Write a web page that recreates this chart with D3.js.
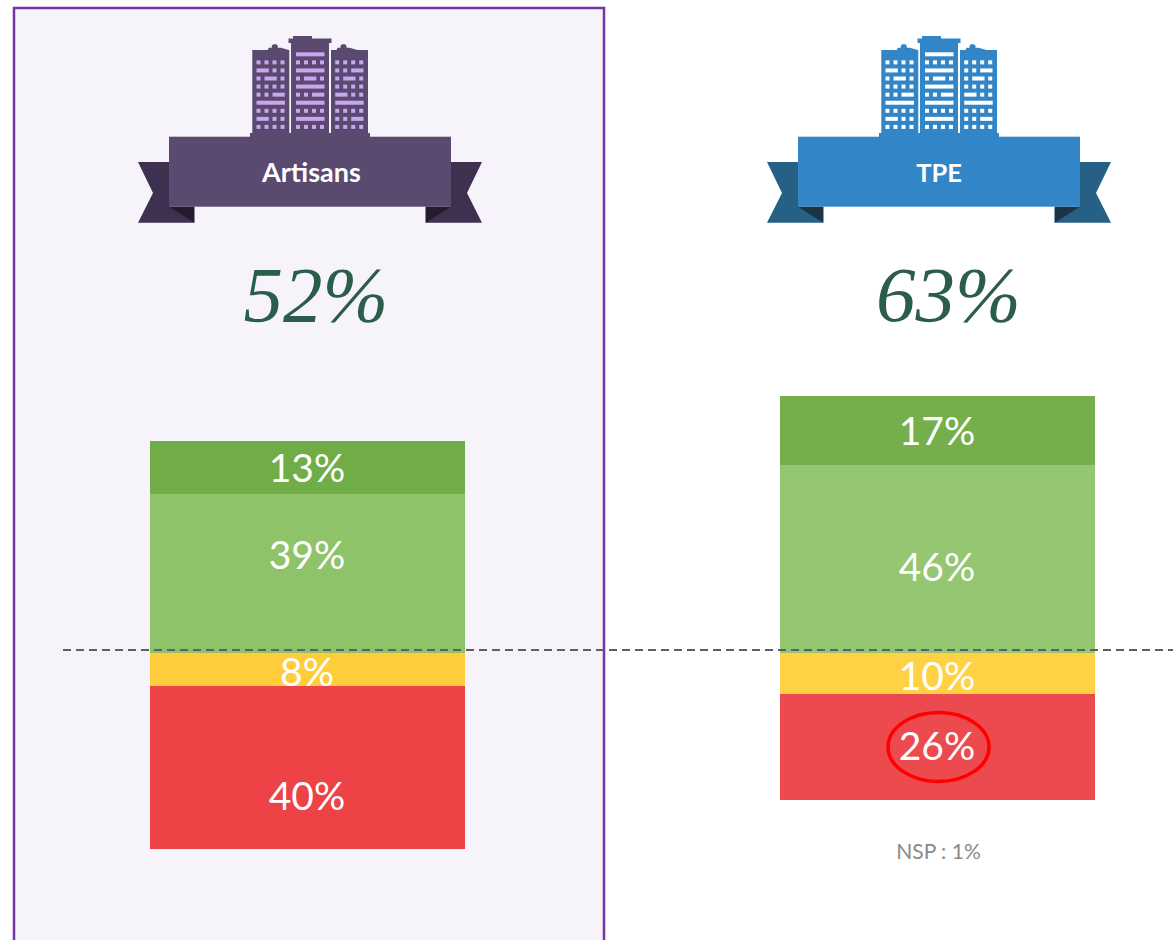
<!DOCTYPE html>
<html><head><meta charset="utf-8">
<script src="https://cdn.jsdelivr.net/npm/d3@7/dist/d3.min.js"></script>
<style>html,body{margin:0;padding:0;background:#fff;overflow:hidden}svg{display:block}</style>
</head><body><div id="c"></div>
<script>
// Data
const groups = ["Artisans", "TPE"];
const totals = ["52%", "63%"];
const segments = ["tresHaut", "haut", "bas", "tresBas"];
const artisansValues = [13, 39, 8, 40];
const tpeValues = [17, 46, 10, 26];
const signs = [1, 1, -1, -1];
const note = "NSP : 1%";

// Styles
const artisansColors = ["#70ad47", "#8fc36a", "#ffcd3c", "#ed4246"];
const tpeColors = ["#75af4c", "#95c671", "#ffd145", "#ec4a4f"];
const theme = {
  Artisans: {main:"#5b4a6f", tail:"#3e3150", fold:"#241b2e", win:"#c9a5f2", labelSize:27, labelX:311.5},
  TPE: {main:"#3285c6", tail:"#276085", fold:"#1b3445", win:"#ffffff", labelSize:25.5, labelX:310}
};
const labelNudge = [[1,-18,3,29],[1,8,3,0]];

const W = 1173, H = 940, baseY = 653;
const svg = d3.select("#c").append("svg").attr("width",W).attr("height",H);

svg.append("rect").attr("x",14).attr("y",8).attr("width",590).attr("height",H+20)
  .attr("fill","#f6f4fa").attr("stroke","#7535a8").attr("stroke-width",2.5);

const x = d3.scaleBand().domain(groups).range([150,1095]).paddingInner(0.5);
const y = d3.scaleLinear().domain([0,100]).range([baseY, baseY-408]);

const rows = groups.map((g,i)=>{
  const vals = i===0?artisansValues:tpeValues;
  const cols = i===0?artisansColors:tpeColors;
  let down=0;
  return segments.map((s,j)=>{
    let a,b;
    if(signs[j]>0){
      const above = d3.sum(vals.slice(j+1).filter((_,k)=>signs[j+1+k]>0));
      a = above; b = above+vals[j];
    } else {
      a = -down; b = -(down+vals[j]); down += vals[j];
    }
    return {g,s,v:vals[j],a,b,color:cols[j],nudge:labelNudge[i][j]};
  });
}).flat();

svg.append("g").selectAll("rect").data(rows).join("rect")
  .attr("x",d=>x(d.g)).attr("width",x.bandwidth())
  .attr("y",d=>Math.round(Math.min(y(d.a),y(d.b))))
  .attr("height",d=>Math.round(Math.max(y(d.a),y(d.b)))-Math.round(Math.min(y(d.a),y(d.b))))
  .attr("fill",d=>d.color);

svg.append("g").selectAll("text").data(rows).join("text")
  .attr("x",d=>x(d.g)+x.bandwidth()/2-0.5)
  .attr("y",d=>(y(d.a)+y(d.b))/2+d.nudge)
  .attr("dy","0.35em")
  .attr("text-anchor","middle").attr("fill","#fff")
  .attr("font-family","Lato, 'Open Sans', sans-serif").attr("font-size",39)
  .text(d=>d.v+"%");

// Reference line
svg.append("line").attr("x1",63).attr("x2",W).attr("y1",650).attr("y2",650)
  .attr("stroke","#5f5f5f").attr("stroke-width",1.8).attr("stroke-dasharray","8 5");

// Highlight
svg.append("ellipse").attr("cx",x("TPE")+158.5).attr("cy",747).attr("rx",50.5).attr("ry",34.5)
  .attr("fill","none").attr("stroke","#ff0000").attr("stroke-width",3.5);

// Note
svg.append("text").attr("x",x("TPE")+158.5).attr("y",858.5).attr("text-anchor","middle")
  .attr("font-family","Lato, sans-serif").attr("font-size",21).attr("fill","#8a8a8a").text(note);

// Totals
groups.forEach((g,i)=>{
  svg.append("text").attr("x",x(g)+166+i*2.5).attr("y",321).attr("text-anchor","middle")
    .attr("font-family","'Liberation Serif', serif").attr("font-style","italic").attr("font-size",79)
    .attr("fill","#2c5c4a").text(totals[i]);
});

// Header icon (ribbon + buildings)
const towerRows = [
 ["", "1111","211","121","1111","112","3","1111","211","1111"],
 ["3","1111","3","121","3","112","3","1111","3","1111"],
 ["", "1111","112","121","1111","211","3","1111","112","1111"]
];
const towerX = [252.3,291,331];
const towerW = [37,38,37];
function header(g,off){
  const t = theme[g];
  const h = svg.append("g").attr("transform",`translate(${off},0)`);
  const poly = (pts,fill)=>h.append("polygon").attr("points",pts.map(p=>p.join(",")).join(" ")).attr("fill",fill);
  h.append("rect").attr("x",250).attr("y",133).attr("width",120).attr("height",4).attr("fill",t.main);
  towerX.forEach((tx,i)=>{
    const top = i===1?43:50;
    h.append("rect").attr("x",tx).attr("y",top).attr("width",towerW[i]).attr("height",134-top).attr("fill",t.main);
    if(i!==1){
      const c = tx+(i===0?22.5:12.5);
      poly([[c-7,50],[c-6,47.8],[c-3,47.8],[c-3,45.8],[c-1.5,44.2],[c+1.5,44.2],[c+3,45.8],[c+3,47.8],[c+6,47.8],[c+14,50]].map((p,k)=>p),t.main);
    }
    const colW = 8.0, x0 = tx+(i===1?5:4.2);
    towerRows[i].forEach((pat,r)=>{
      if(!pat) return;
      const ry = 52.3+r*8.07;
      let col=0;
      [...pat].forEach(ch=>{
        if(ch==="3"){
          h.append("rect").attr("x",x0).attr("y",ry).attr("width",28.5).attr("height",4).attr("fill",t.win);
          col=4;
        } else if(ch==="2"){
          h.append("rect").attr("x",x0+col*colW).attr("y",ry).attr("width",12.3).attr("height",4).attr("fill",t.win);
          col+=2;
        } else {
          h.append("rect").attr("x",x0+col*colW).attr("y",ry).attr("width",4).attr("height",4).attr("fill",t.win);
          col+=1;
        }
      });
    });
  });
  h.append("rect").attr("x",288.5).attr("y",38.5).attr("width",43).attr("height",4.5).attr("fill",t.main);
  h.append("rect").attr("x",293).attr("y",36).attr("width",19).attr("height",3).attr("fill",t.main);
  // ribbon tails
  poly([[138,162],[170,162],[170,206.7],[194.3,206.7],[194.3,222.7],[138,222.7],[153,193]],t.tail);
  poly([[482,162],[450,162],[450,206.7],[425.7,206.7],[425.7,222.7],[482,222.7],[467,193]],t.tail);
  poly([[169,206.7],[194.3,206.7],[194.3,222.7]],t.fold);
  poly([[451,206.7],[425.7,206.7],[425.7,222.7]],t.fold);
  h.append("rect").attr("x",169).attr("y",136.7).attr("width",282).attr("height",70).attr("fill",t.main);
  h.append("text").attr("x",t.labelX).attr("y",181.5).attr("text-anchor","middle")
    .attr("font-family","Lato, sans-serif").attr("font-weight",700).attr("font-size",t.labelSize).attr("fill","#fff").text(g);
}
header("Artisans",0);
header("TPE",629);
</script></body></html>
